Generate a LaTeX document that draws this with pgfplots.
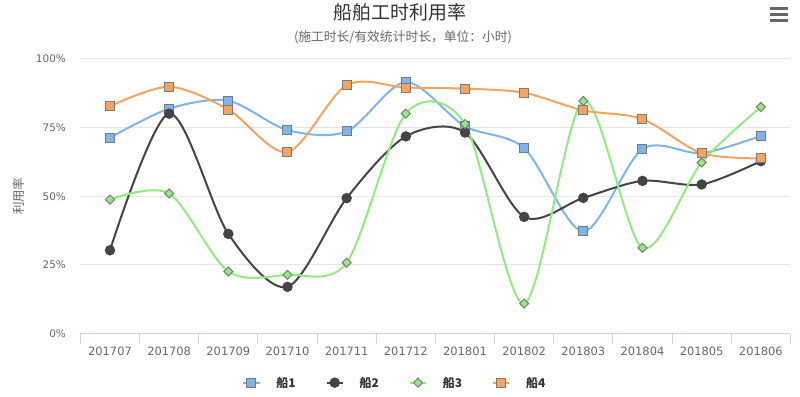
\documentclass[border=0pt]{standalone}
\usepackage{pgfplots}
\pgfplotsset{compat=1.18}
\usepackage{pgfplotstable}
\usepackage{fontspec}
\setmainfont{Noto Sans CJK SC}
\newfontfamily\numfont{DejaVu Sans}
\definecolor{sA}{HTML}{7CB5EC}
\definecolor{sB}{HTML}{434348}
\definecolor{sC}{HTML}{90ED7D}
\definecolor{sD}{HTML}{F7A35C}
\definecolor{mk}{HTML}{7A7A7A}
\definecolor{txt}{HTML}{333333}
\definecolor{lbl}{HTML}{666666}
\definecolor{grd}{HTML}{E6E6E6}
\definecolor{axl}{HTML}{CCD6EB}

\pgfplotstableread{
x  s1   s2   s3   s4
0  71.3 30.3 48.8 82.8
1  81.9 80.1 51.0 89.9
2  84.8 36.3 22.6 81.6
3  74.1 17.0 21.4 66.1
4  73.6 49.3 25.8 90.5
5  91.6 71.8 80.1 89.6
6  75.5 73.2 76.3 89.2
7  67.5 42.5 10.9 87.7
8  37.2 49.4 84.7 81.3
9  67.2 55.6 31.2 78.1
10 65.7 54.3 62.3 65.7
11 72.0 62.8 82.5 63.8
}\datatable

\begin{document}
\begin{tikzpicture}[x=1bp,y=1bp]
\useasboundingbox (0,0) rectangle (800,396);
\node[font=\fontsize{19}{22}\selectfont, text=txt] at (400,384) {船舶工时利用率};
\node[font=\fontsize{12.8}{15}\selectfont, text=lbl] at (403,358.5) {(施工时长/有效统计时长，单位：小时)};
\foreach \yy in {387.5,381.3,375.3} \draw[lbl, line width=2.4bp] (770,\yy) -- (788,\yy);
\begin{axis}[
  at={(80.4bp,62.5bp)}, anchor=south west,
  scale only axis, width=710bp, height=274.5bp,
  xmin=-0.5, xmax=11.5, ymin=0, ymax=100,
  axis lines*=left,
  x axis line style={axl, line width=1bp},
  y axis line style={draw=none},
  xtick={0,...,11},
  xticklabels={201707,201708,201709,201710,201711,201712,201801,201802,201803,201804,201805,201806},
  ytick={0,25,50,75,100},
  yticklabels={0\%,25\%,50\%,75\%,100\%},
  major tick length=0pt,
  tick align=outside,
  extra x ticks={-0.5,0.5,...,11.5},
  extra x tick labels={},
  extra x tick style={major tick length=10bp, tick style={axl, line width=1bp}, grid=none},
  ymajorgrids, grid style={grd, line width=1bp},
  xticklabel style={font=\numfont\fontsize{11.5}{13}\selectfont, text=lbl, yshift=-9.5bp},
  yticklabel style={font=\numfont\fontsize{10.5}{12}\selectfont, text=lbl, xshift=-11bp},
  ylabel={利用率},
  ylabel style={font=\fontsize{12.5}{14}\selectfont, text=lbl, at={(axis description cs:-0.0873,0.5)}, anchor=center},
  legend style={at={(axis description cs:0.443,-0.179)}, anchor=center, draw=none, fill=none,
    legend columns=4, font=\bfseries\fontsize{12}{14}\selectfont, text=txt,
    /tikz/every odd column/.append style={column sep=14bp},
    /tikz/every even column/.append style={column sep=28bp}},
  legend cell align=left,
  legend image code/.code={\draw[mark repeat=2,mark phase=2,#1] plot coordinates {(0bp,0bp) (8bp,0bp) (16bp,0bp)};},
  every axis plot/.append style={smooth, tension=0.5, line width=2bp},
]
\addplot[sA, mark=square*, mark size=4.5bp, mark options={draw=mk, fill=sA, line width=1bp}] table[x=x,y=s1]{\datatable};
\addlegendentry{船1}
\addplot[sB, mark=*, mark size=4.7bp, mark options={draw=sB, fill=sB, line width=1bp}] table[x=x,y=s2]{\datatable};
\addlegendentry{船2}
\addplot[sC, mark=square*, mark size=3.2bp, mark options={draw=mk, fill=sC, line width=1bp, rotate=45}] table[x=x,y=s3]{\datatable};
\addlegendentry{船3}
\addplot[sD, mark=square*, mark size=4.5bp, mark options={draw=mk, fill=sD, line width=1bp}] table[x=x,y=s4]{\datatable};
\addlegendentry{船4}
\end{axis}
\end{tikzpicture}
\end{document}
